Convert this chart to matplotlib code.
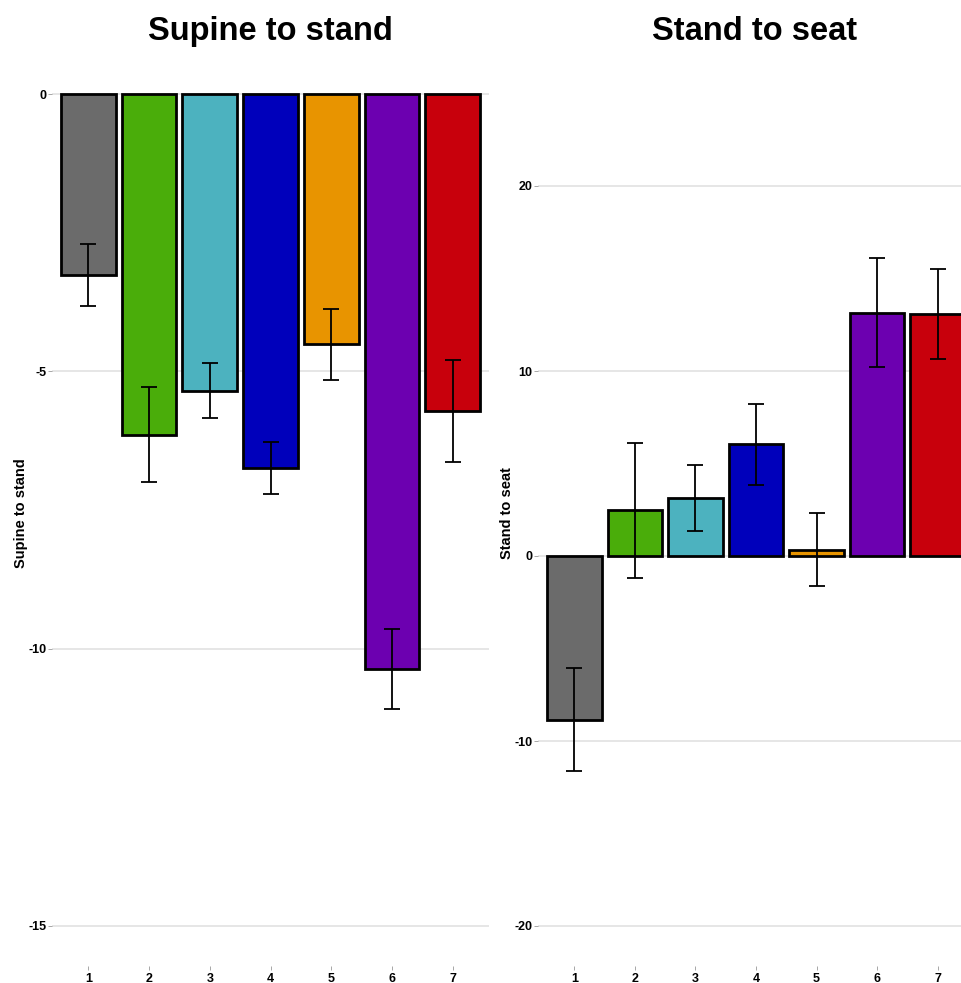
import matplotlib
matplotlib.use("Agg")
import matplotlib.pyplot as plt
import numpy as np

plt.rcParams['font.family'] = ['Liberation Sans', 'DejaVu Sans']

groups = ["1", "2", "3", "4", "5", "6", "7"]
colors = ["#6b6b6b", "#4aad0a", "#4cb2bf", "#0000bb", "#e89400", "#6c00b0", "#c8000c"]

supine_mean = [-3.26, -6.14, -5.35, -6.74, -4.51, -10.37, -5.71]
supine_err = [0.56, 0.86, 0.50, 0.47, 0.64, 0.72, 0.92]

seat_mean = [-8.84, 2.48, 3.13, 6.03, 0.33, 13.16, 13.09]
seat_err = [2.80, 3.65, 1.80, 2.20, 1.97, 2.97, 2.45]

W, H = 961, 983
fig = plt.figure(figsize=(W / 100, H / 100), dpi=100)

def px_axes(x0, x1, y0, y1):
    return fig.add_axes([x0 / W, (H - y1) / H, (x1 - x0) / W, (y1 - y0) / H])

def style(ax, ylabel, yticks):
    for s in ax.spines.values():
        s.set_visible(False)
    ax.set_yticks(yticks)
    ax.set_yticklabels([str(t) for t in yticks])
    ax.grid(axis='y', color='#e2e2e2', linewidth=1.2)
    ax.grid(axis='x', visible=False)
    ax.set_axisbelow(True)
    ax.tick_params(axis='both', length=3, width=0.6, color='#999999', labelsize=9, pad=2)
    ax.tick_params(axis='y', pad=1)
    for lab in ax.get_xticklabels() + ax.get_yticklabels():
        lab.set_fontweight('bold')
    ax.set_ylabel(ylabel, fontsize=10.5, fontweight='bold', labelpad=0)

def panel(ax, means, errs, ylim):
    x = np.arange(1, len(groups) + 1)
    ax.bar(x, means, width=0.9, color=colors, edgecolor='black', linewidth=2, zorder=2)
    ax.errorbar(x, means, yerr=errs, fmt='none', ecolor='black', elinewidth=1.3,
                capsize=5.5, capthick=1.3, zorder=3)
    ax.set_xticks(x)
    ax.set_xticklabels(groups)
    ax.set_xlim(0.4, 7.6)
    ax.set_ylim(*ylim)

top_px, bot_px = 60, 966

# left panel: 0 at y=94, -15 at y=926
ppu_l = (926 - 94) / 15.0
ax1 = px_axes(52, 489, top_px, bot_px)
ylim_l = (-15 - (bot_px - 926) / ppu_l, 0 + (94 - top_px) / ppu_l)
panel(ax1, supine_mean, supine_err, ylim_l)
style(ax1, "Supine to stand", [-15, -10, -5, 0])

# right panel: 20 at y=186, -20 at y=926
ppu_r = (926 - 186) / 40.0
ax2 = px_axes(538, 974, top_px, bot_px)
ylim_r = (-20 - (bot_px - 926) / ppu_r, 20 + (186 - top_px) / ppu_r)
panel(ax2, seat_mean, seat_err, ylim_r)
style(ax2, "Stand to seat", [-20, -10, 0, 10, 20])

fig.text(270 / W, 1 - 40 / H, "Supine to stand", fontsize=23.5, fontweight='bold',
         ha='center', va='baseline')
fig.text(755 / W, 1 - 40 / H, "Stand to seat", fontsize=23.5, fontweight='bold',
         ha='center', va='baseline')

fig.savefig("out.png", dpi=100, facecolor='white')
